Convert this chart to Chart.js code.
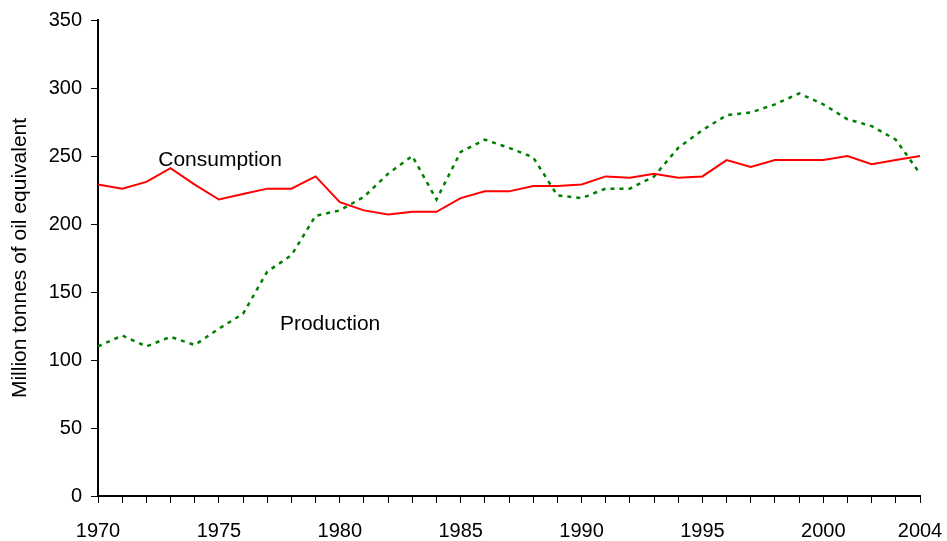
<!DOCTYPE html>
<html>
<head>
<meta charset="utf-8">
<script src="https://cdn.jsdelivr.net/npm/chart.js@4/dist/chart.umd.min.js"></script>
<style>
  html, body { margin: 0; padding: 0; background: #fff; }
  #wrap { width: 947px; height: 541px; position: relative; }
</style>
</head>
<body>
<div id="wrap"><canvas id="oilChart"></canvas></div>
<script>
let years = [];
for (let y = 1970; y <= 2004; y++) years.push(String(y));

let consumption = [229, 226, 231, 241, 229, 218, 222, 226, 226, 235,
                   216, 210, 207, 209, 209, 219, 224, 224, 228, 228,
                   229, 235, 234, 237, 234, 235, 247, 242, 247, 247,
                   247, 250, 244, 247, 250];
let production = [110, 118, 110, 117, 111, 123, 134, 165, 177, 206,
                  210, 220, 237, 250, 218, 253, 262, 256, 249, 221,
                  219, 226, 226, 235, 256, 269, 280, 282, 288, 296,
                  288, 277, 272, 262, 237];

// in-plot series labels: [text, year, value]
let seriesLabels = [
  ["Consumption", 1975.05, 247],
  ["Production", 1979.6, 126.5]
];

let fontFamily = "'Liberation Sans', Arial, sans-serif";

let labelPlugin = {
  id: "seriesLabels",
  afterDatasetsDraw: function (chart) {
    let ctx = chart.ctx;
    let xs = chart.scales.x, ys = chart.scales.y;
    ctx.save();
    ctx.font = "21px " + fontFamily;
    ctx.fillStyle = "#000";
    ctx.textAlign = "center";
    ctx.textBaseline = "middle";
    seriesLabels.forEach(function (l) {
      let i0 = Math.floor(l[1] - 1970);
      let frac = l[1] - 1970 - i0;
      let x = xs.getPixelForValue(i0) + frac * (xs.getPixelForValue(1) - xs.getPixelForValue(0));
      ctx.fillText(l[0], x, ys.getPixelForValue(l[2]));
    });
    ctx.restore();
  }
};

let oilChart = new Chart(document.getElementById("oilChart").getContext("2d"), {
  type: "line",
  data: {
    labels: years,
    datasets: [
      {
        label: "Consumption",
        data: consumption,
        borderColor: "#ff0000",
        borderWidth: 2,
        pointRadius: 0,
        tension: 0
      },
      {
        label: "Production",
        data: production,
        borderColor: "#008000",
        borderWidth: 2.5,
        borderDash: [4, 5],
        pointRadius: 0,
        tension: 0
      }
    ]
  },
  options: {
    responsive: true,
    maintainAspectRatio: false,
    animation: false,
    layout: { padding: { top: 20, right: 27, left: 0, bottom: 0 } },
    plugins: {
      legend: { display: false },
      tooltip: { enabled: false }
    },
    scales: {
      x: {
        offset: false,
        grid: {
          drawOnChartArea: false,
          drawTicks: true,
          tickLength: 7,
          color: "#000",
          lineWidth: 1
        },
        border: { display: true, color: "#000", width: 2 },
        ticks: {
          autoSkip: false,
          maxRotation: 0,
          padding: 16,
          color: "#000",
          font: { family: fontFamily, size: 20 },
          callback: function (val, i) {
            let lab = years[i];
            return (Number(lab) % 5 === 0 || lab === "2004") ? lab : "";
          }
        },
        afterFit: function (scale) {
          scale.height = 45;
          scale.paddingLeft = 0;
          scale.paddingRight = 0;
        }
      },
      y: {
        min: 0,
        max: 350,
        grid: {
          drawOnChartArea: false,
          drawTicks: true,
          tickLength: 7,
          color: "#000",
          lineWidth: 1
        },
        border: { display: true, color: "#000", width: 2 },
        ticks: {
          stepSize: 50,
          padding: 9,
          color: "#000",
          font: { family: fontFamily, size: 20 }
        },
        title: {
          display: true,
          text: "Million tonnes of oil equivalent",
          color: "#000",
          font: { family: fontFamily, size: 21 },
          padding: { top: 8, bottom: 0 }
        },
        afterFit: function (scale) {
          scale.width = 98;
          scale.paddingTop = 0;
          scale.paddingBottom = 0;
        }
      }
    }
  },
  plugins: [labelPlugin]
});
</script>
</body>
</html>
